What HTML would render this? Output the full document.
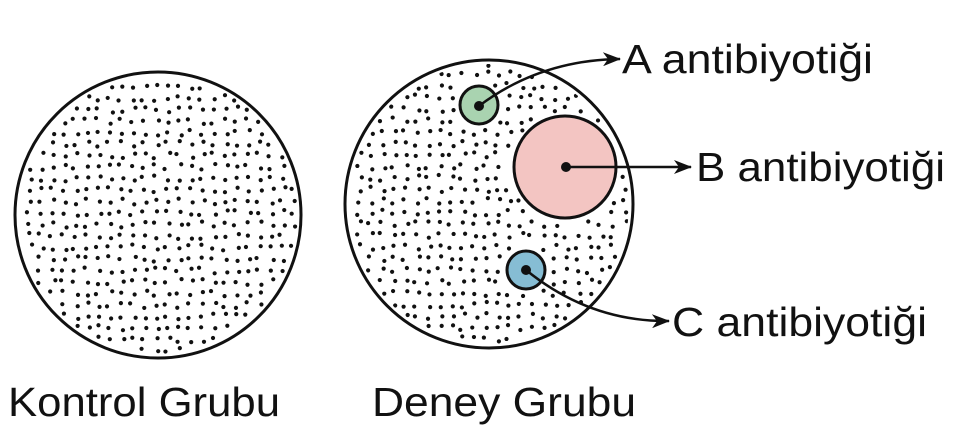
<!DOCTYPE html>
<html><head><meta charset="utf-8"><style>
html,body{margin:0;padding:0;background:#fff;}
svg{display:block;}
text{font-family:"Liberation Sans",Arial,sans-serif;font-size:41px;fill:#111;}
</style></head><body>
<svg id="s" width="970" height="446" viewBox="0 0 970 446" xmlns="http://www.w3.org/2000/svg">
<defs>
<marker id="ar" markerWidth="18" markerHeight="14" refX="17" refY="7" orient="auto" markerUnits="userSpaceOnUse" viewBox="0 0 18 14">
<path d="M0,0 L18,7 L0,14 L5,7 Z" fill="#111"/></marker>
<clipPath id="c1"><circle cx="158" cy="215" r="140"/></clipPath>
<clipPath id="c2"><circle cx="489" cy="204" r="140"/></clipPath>
</defs>
<g id="d1" clip-path="url(#c1)"></g>
<g id="d2" clip-path="url(#c2)"></g>
<circle cx="158" cy="215" r="143" fill="none" stroke="#111" stroke-width="3"/>
<circle cx="489" cy="204" r="144" fill="none" stroke="#111" stroke-width="3"/>
<circle cx="479" cy="105" r="19" fill="#a9d3b0" stroke="#111" stroke-width="3"/>
<circle cx="565" cy="167" r="51" fill="#f3c5c2" stroke="#111" stroke-width="3"/>
<circle cx="526" cy="270" r="19" fill="#86bdd4" stroke="#111" stroke-width="3"/>
<circle cx="479" cy="106" r="5" fill="#111"/>
<circle cx="566" cy="167" r="5" fill="#111"/>
<circle cx="526" cy="270" r="5" fill="#111"/>
<path d="M479,106 Q540,60 620,59" fill="none" stroke="#111" stroke-width="2.5" marker-end="url(#ar)"/>
<path d="M566,167 L691,167" fill="none" stroke="#111" stroke-width="2.5" marker-end="url(#ar)"/>
<path d="M526,270 Q590,322 669,321" fill="none" stroke="#111" stroke-width="2.5" marker-end="url(#ar)"/>
<text x="622" y="73" textLength="251" lengthAdjust="spacingAndGlyphs">A antibiyotiği</text>
<text x="696" y="181" textLength="249" lengthAdjust="spacingAndGlyphs">B antibiyotiği</text>
<text x="672" y="336" textLength="255" lengthAdjust="spacingAndGlyphs">C antibiyotiği</text>
<text x="8" y="416" textLength="272" lengthAdjust="spacingAndGlyphs">Kontrol Grubu</text>
<text x="372" y="416" textLength="264" lengthAdjust="spacingAndGlyphs">Deney Grubu</text>
</svg>
<script>
(function(){
var seed=7;function r(){seed=(seed*16807)%2147483647;return seed/2147483647;}
var ns="http://www.w3.org/2000/svg";
function fill(id,cx,cy,R,holes){var g=document.getElementById(id);
for(var y=cy-R;y<cy+R;y+=11.5){for(var x=cx-R;x<cx+R;x+=11.5){
var px=x+r()*6,py=y+r()*6;var dx=px-cx,dy=py-cy;if(dx*dx+dy*dy>(R-5)*(R-5))continue;
var skip=false;for(var i=0;i<holes.length;i++){var h=holes[i];var ex=px-h[0],ey=py-h[1];if(ex*ex+ey*ey<(h[2]+5)*(h[2]+5))skip=true;}
if(skip)continue;var c=document.createElementNS(ns,"circle");c.setAttribute("cx",px);c.setAttribute("cy",py);c.setAttribute("r",2.1);c.setAttribute("fill","#111");g.appendChild(c);}}}
fill("d1",158,215,143,[]);
fill("d2",489,204,144,[[479,105,19],[565,167,51],[526,270,19]]);
})();
</script>
</body></html>
